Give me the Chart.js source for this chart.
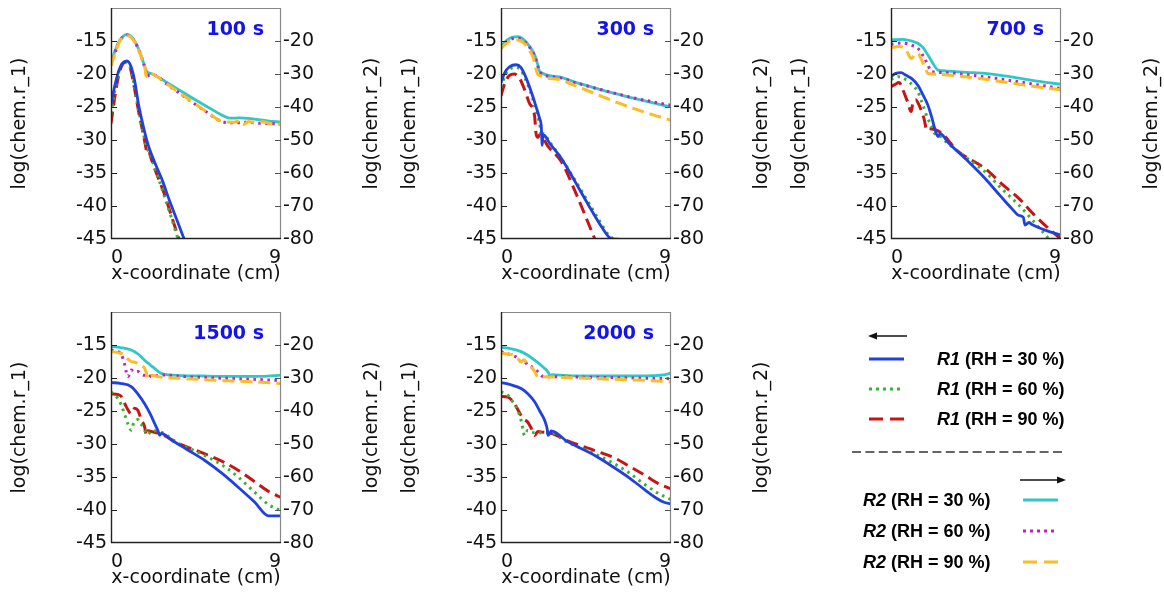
<!DOCTYPE html>
<html>
<head>
<meta charset="utf-8">
<script src="https://cdn.jsdelivr.net/npm/chart.js@4.4.1/dist/chart.umd.min.js"></script>
<style>
  html, body { margin: 0; padding: 0; background: #fff; }
  body { width: 1164px; height: 595px; overflow: hidden; position: relative; }
  .panel { position: absolute; width: 390px; height: 300px; }
  #legend { position: absolute; left: 0; top: 0; }
</style>
</head>
<body>
<div class="panel" style="left:0px;top:0px"><canvas id="c100" width="390" height="300"></canvas></div>
<div class="panel" style="left:390px;top:0px"><canvas id="c300" width="390" height="300"></canvas></div>
<div class="panel" style="left:780px;top:0px"><canvas id="c700" width="390" height="300"></canvas></div>
<div class="panel" style="left:0px;top:304px"><canvas id="c1500" width="390" height="300"></canvas></div>
<div class="panel" style="left:390px;top:304px"><canvas id="c2000" width="390" height="300"></canvas></div>

<svg id="legend" width="1164" height="595" xmlns="http://www.w3.org/2000/svg" font-family="Liberation Sans, Arial, sans-serif" font-weight="bold" font-size="18">
  <line x1="874" y1="336" x2="907" y2="336" stroke="#111" stroke-width="1.5"/>
  <polygon points="868,336 877,332.5 877,339.5" fill="#111"/>
  <line x1="869" y1="359" x2="904" y2="359" stroke="#2040e0" stroke-width="3"/>
  <line x1="869" y1="389" x2="902" y2="389" stroke="#33b233" stroke-width="3" stroke-dasharray="3 4"/>
  <line x1="869" y1="419" x2="904" y2="419" stroke="#c81414" stroke-width="3" stroke-dasharray="14 7"/>
  <text x="937" y="365"><tspan font-style="italic">R1</tspan> (RH = 30 %)</text>
  <text x="937" y="395"><tspan font-style="italic">R1</tspan> (RH = 60 %)</text>
  <text x="937" y="425"><tspan font-style="italic">R1</tspan> (RH = 90 %)</text>
  <line x1="852" y1="452" x2="1066" y2="452" stroke="#333" stroke-width="1.5" stroke-dasharray="9 4.4"/>
  <line x1="1020" y1="480" x2="1059" y2="480" stroke="#111" stroke-width="1.5"/>
  <polygon points="1066,480 1057,476.5 1057,483.5" fill="#111"/>
  <text x="863" y="506"><tspan font-style="italic">R2</tspan> (RH = 30 %)</text>
  <text x="863" y="537"><tspan font-style="italic">R2</tspan> (RH = 60 %)</text>
  <text x="863" y="568"><tspan font-style="italic">R2</tspan> (RH = 90 %)</text>
  <line x1="1023" y1="500" x2="1058" y2="500" stroke="#2ec8c8" stroke-width="3"/>
  <line x1="1023" y1="531" x2="1056" y2="531" stroke="#c020c0" stroke-width="3" stroke-dasharray="3 4"/>
  <line x1="1023" y1="562" x2="1058" y2="562" stroke="#ffbb22" stroke-width="3" stroke-dasharray="14 7"/>
</svg>

<script>
// ---------------- data ----------------
const X_TICKS = [0, 9];
const Y1_TICKS = [-45, -40, -35, -30, -25, -20, -15];
const Y2_TICKS = [-80, -70, -60, -50, -40, -30, -20];
const TIMES = ['100 s', '300 s', '700 s', '1500 s', '2000 s'];

// R1 series: log(chem.r_1) (left axis); R2 series: log(chem.r_2) (right axis). Points are [x (cm), value].
// ---- 100 s ----
const r1_30_t100 = [[0,-24.5],[0.2,-21.8],[0.4,-19.6],[0.6,-18.4],[0.85,-18.0],[1.05,-18.8],[1.25,-21.0],[1.45,-24.5],[1.7,-27.8],[1.95,-30.6],[2.3,-33.3],[2.7,-36.0],[3.1,-39.2],[3.5,-42.2],[3.9,-45.2],[4.1,-46.6]];
const r1_60_t100 = [[0,-26],[0.2,-22.5],[0.4,-19.8],[0.6,-18.4],[0.8,-18.1],[1.0,-18.8],[1.2,-21.3],[1.45,-25.3],[1.7,-28.8],[1.9,-31.2],[2.05,-32],[2.4,-34.8],[2.8,-38.3],[3.2,-41.8],[3.55,-45],[3.8,-47]];
const r1_90_t100 = [[0,-27.5],[0.2,-23.5],[0.4,-20.3],[0.6,-18.6],[0.8,-18.2],[1.0,-18.9],[1.2,-21.5],[1.45,-25.5],[1.7,-29.0],[1.85,-31.2],[1.9,-32.0],[2.0,-31.7],[2.1,-32.6],[2.4,-35.0],[2.8,-38.0],[3.2,-41.5],[3.6,-45.0],[3.8,-46.5]];
const r2_30_t100 = [[0,-26.5],[0.2,-23.2],[0.4,-20.4],[0.6,-18.8],[0.85,-18.0],[1.1,-18.8],[1.35,-21.0],[1.6,-24.5],[1.8,-28.0],[1.9,-29.3],[2.1,-29.8],[2.3,-30.3],[3.0,-32.7],[4.0,-36.2],[5.0,-39.6],[6.0,-42.8],[6.3,-43.4],[6.8,-43.3],[7.5,-43.6],[8.3,-44.2],[9,-44.6]];
const r2_60_t100 = [[0,-27.3],[0.2,-23.8],[0.4,-20.6],[0.6,-18.9],[0.85,-18.2],[1.1,-19.0],[1.35,-21.2],[1.6,-24.7],[1.8,-28.3],[1.9,-30.8],[2.05,-30.2],[2.2,-30.2],[3.0,-33.3],[4.0,-37.3],[5.0,-41.3],[6.0,-44.6],[6.6,-44.8],[7.2,-44.6],[7.8,-44.9],[8.4,-45.0],[9,-45.2]];
const r2_90_t100 = [[0,-27.5],[0.2,-24],[0.4,-20.8],[0.6,-19],[0.85,-18.3],[1.1,-19.1],[1.35,-21.3],[1.6,-24.8],[1.8,-28.2],[1.85,-30.5],[1.95,-30.8],[2.05,-29.8],[2.2,-30],[3.0,-33.2],[4.0,-37.2],[5.0,-41.2],[6.0,-44.5],[6.5,-44.6],[6.8,-44.2],[7.0,-45.3],[7.3,-44.4],[7.6,-44.7],[8.0,-44.5],[8.5,-45.2],[8.7,-45.5],[9,-45.0]];
// ---- 300 s ----
const r1_30_t300 = [[0,-21.3],[0.2,-19.8],[0.45,-18.9],[0.8,-18.6],[1.05,-19.0],[1.3,-20.4],[1.6,-22.7],[1.85,-24.9],[2.05,-26.8],[2.13,-27.8],[2.18,-30.8],[2.24,-29.2],[2.6,-30.6],[3.2,-32.8],[3.9,-36.2],[4.62,-39.8],[5.2,-42.6],[5.68,-44.6],[5.9,-45.0],[6.3,-45.05]];
const r1_60_t300 = [[0,-22],[0.2,-20.3],[0.45,-19.3],[0.8,-19.0],[1.05,-19.4],[1.3,-20.8],[1.6,-23.0],[1.85,-25.5],[2.05,-27.6],[2.15,-29.5],[2.22,-29.0],[2.6,-30.4],[3.2,-32.8],[3.9,-36.0],[4.62,-39.4],[5.2,-42.2],[5.7,-44.4],[6.0,-45.0],[6.4,-45.1]];
const r1_90_t300 = [[0,-23.3],[0.2,-21.4],[0.45,-20.2],[0.7,-20.0],[0.95,-20.5],[1.2,-22.0],[1.5,-24.4],[1.78,-26.4],[1.85,-28.9],[1.95,-29.6],[2.05,-29.2],[2.5,-31.0],[3.2,-33.3],[4.0,-38.3],[4.97,-45],[5.2,-46.5]];
const r2_30_t300 = [[0,-21.7],[0.3,-19.8],[0.6,-18.8],[0.9,-18.7],[1.2,-19.6],[1.5,-21.5],[1.8,-24.5],[1.95,-27.3],[2.05,-29.3],[3,-30.8],[4,-32.6],[5,-34.3],[6,-35.9],[7,-37.3],[8,-38.7],[9,-40]];
const r2_60_t300 = [[0,-22.2],[0.3,-20.3],[0.6,-19.3],[0.9,-19.2],[1.2,-20.0],[1.5,-21.8],[1.8,-24.8],[1.95,-27.6],[2.05,-29.5],[3,-31],[4,-32.7],[5,-34.3],[6,-35.8],[7,-37.2],[8,-38.4],[9,-39.5]];
const r2_90_t300 = [[0,-22.2],[0.3,-20.6],[0.6,-19.8],[0.9,-19.7],[1.2,-20.6],[1.5,-22.8],[1.7,-25.0],[1.85,-28.5],[1.95,-30.1],[3,-31.6],[4,-33.7],[5,-36.0],[6,-38.3],[7,-40.4],[8,-42.3],[9,-44]];
// ---- 700 s ----
const r1_30_t700 = [[0,-20.4],[0.25,-19.9],[0.53,-19.8],[0.8,-20.2],[1.1,-20.7],[1.42,-21.7],[1.7,-23.2],[1.95,-24.7],[2.15,-26.5],[2.31,-28.2],[2.49,-29.5],[2.6,-29.0],[3.0,-30.3],[4.0,-33.0],[4.97,-35.8],[5.8,-38.5],[6.4,-40.4],[6.75,-41.4],[7.0,-41.7],[7.1,-42.9],[7.3,-42.5],[7.46,-42.8],[8.2,-43.7],[9,-44.4]];
const r1_60_t700 = [[0,-20.8],[0.4,-20.4],[0.7,-20.7],[1.0,-21.3],[1.42,-22.7],[1.7,-24.8],[1.95,-26.8],[2.13,-27.7],[2.31,-29.0],[2.5,-29.2],[3.0,-30.5],[4.0,-32.7],[4.97,-34.8],[5.9,-37.5],[6.75,-39.8],[7.6,-42.5],[8.35,-45],[8.6,-46]];
const r1_90_t700 = [[0,-21.9],[0.2,-21.6],[0.44,-21.3],[0.6,-22.2],[0.85,-24.0],[1.07,-25.7],[1.15,-24.5],[1.3,-23.9],[1.5,-24.8],[1.75,-26.8],[1.9,-28.5],[2.0,-28.3],[2.3,-28.4],[2.66,-28.9],[3.5,-31.6],[4.97,-34.3],[6.0,-37.0],[6.75,-38.8],[7.6,-41.4],[8.3,-43.3],[9,-45]];
const r2_30_t700 = [[0,-19.7],[0.62,-19.5],[1.1,-20.0],[1.42,-20.7],[1.7,-22.0],[1.95,-24.2],[2.2,-26.6],[2.49,-28.8],[3,-29.1],[4,-29.5],[4.97,-29.8],[6,-30.6],[7,-31.5],[8,-32.4],[9,-33.1]];
const r2_60_t700 = [[0,-21.0],[0.6,-20.6],[1.1,-21.3],[1.42,-22.2],[1.7,-24.5],[1.95,-27.2],[2.13,-29.3],[3,-29.6],[4,-30.2],[5,-30.9],[6,-31.7],[7,-32.6],[8,-33.5],[9,-34.4]];
const r2_90_t700 = [[0,-22.0],[0.4,-21.7],[0.7,-22.0],[0.9,-23.8],[1.07,-25.3],[1.25,-24.2],[1.42,-23.7],[1.6,-25.5],[1.8,-28.0],[1.95,-29.8],[2.22,-30.0],[3,-30.3],[4,-30.9],[5,-31.6],[6,-32.4],[7,-33.3],[8,-34.1],[9,-34.8]];
// ---- 1500 s ----
const r1_30_t1500 = [[0,-20.7],[0.5,-20.8],[1.07,-21.3],[1.42,-22.4],[1.78,-23.9],[2.05,-25.3],[2.31,-26.9],[2.5,-28.1],[2.58,-28.7],[2.66,-28.4],[3.2,-29.4],[4.0,-30.8],[4.97,-32.5],[5.9,-34.5],[6.75,-36.6],[7.6,-38.8],[8.35,-40.9],[9,-40.9]];
const r1_60_t1500 = [[0,-22.1],[0.36,-23.1],[0.53,-24.0],[0.71,-25.4],[0.9,-27.0],[1.07,-27.9],[1.2,-26.8],[1.42,-26.3],[1.6,-27.0],[1.78,-27.9],[1.95,-28.6],[2.13,-28.0],[2.66,-28.2],[3.5,-29.8],[4.97,-31.75],[6.0,-33.4],[6.75,-35.05],[7.6,-37.3],[8.35,-39.2],[9,-40.1]];
const r1_90_t1500 = [[0,-22.4],[0.36,-22.5],[0.55,-22.8],[0.8,-24.3],[1.07,-25.4],[1.25,-24.6],[1.42,-24.9],[1.6,-26.3],[1.78,-27.4],[1.87,-28.7],[1.95,-28.0],[2.13,-28.1],[2.66,-28.5],[3.5,-29.8],[4.97,-31.5],[6.0,-32.8],[6.75,-34.0],[7.6,-35.7],[8.35,-37.2],[9,-38.1]];
const r2_30_t1500 = [[0,-20.5],[0.5,-20.8],[1.07,-21.5],[1.45,-22.8],[1.78,-24.6],[2.05,-25.9],[2.31,-27.1],[2.5,-28.0],[2.66,-28.6],[3.5,-29.2],[5,-29.4],[6.5,-29.5],[8,-29.5],[9,-29.1]];
const r2_60_t1500 = [[0,-21.5],[0.36,-22.0],[0.53,-22.6],[0.71,-25.6],[0.8,-28.0],[0.9,-29.6],[1.0,-28.5],[1.07,-27.6],[1.25,-28.2],[1.42,-28.0],[1.6,-28.9],[1.78,-29.2],[1.95,-28.8],[2.13,-29.6],[2.4,-29.3],[2.66,-29.1],[4,-29.6],[6,-30.1],[8,-30.5],[9,-30.8]];
const r2_90_t1500 = [[0,-22.0],[0.36,-22.3],[0.71,-23.0],[0.9,-24.3],[1.07,-25.0],[1.3,-25.3],[1.5,-26.0],[1.78,-27.1],[1.87,-28.5],[1.95,-30.2],[2.05,-29.4],[2.13,-29.2],[2.5,-29.6],[4,-30.2],[6,-30.8],[8,-31.3],[9,-31.7]];
// ---- 2000 s ----
const r1_30_t2000 = [[0,-20.7],[0.5,-21.0],[1.07,-21.6],[1.42,-22.4],[1.78,-23.6],[2.05,-25.0],[2.31,-26.4],[2.45,-27.8],[2.49,-28.7],[2.58,-28.4],[2.66,-28.0],[3.5,-29.6],[4.97,-31.75],[6.0,-33.6],[6.75,-35.05],[7.6,-36.9],[8.17,-38.1],[8.6,-38.8],[9,-39.1]];
const r1_60_t2000 = [[0,-22.1],[0.36,-22.6],[0.6,-23.5],[0.89,-24.9],[1.07,-26.5],[1.2,-28.3],[1.24,-28.7],[1.42,-27.9],[1.6,-28.2],[1.95,-28.3],[2.66,-28.3],[3.5,-29.7],[4.97,-31.5],[6.0,-33.0],[6.75,-34.3],[7.6,-36.1],[8.4,-37.6],[9,-38.4]];
const r1_90_t2000 = [[0,-22.8],[0.36,-22.9],[0.71,-23.9],[1.07,-25.7],[1.2,-26.2],[1.42,-26.7],[1.6,-27.6],[1.78,-28.7],[1.95,-28.1],[2.2,-28.2],[2.66,-28.4],[3.5,-29.5],[4.97,-31.0],[6.0,-32.1],[6.75,-33.3],[7.6,-34.7],[8.4,-36.1],[9,-36.8]];
const r2_30_t2000 = [[0,-20.7],[0.5,-21.1],[1.07,-22.0],[1.42,-23.1],[1.78,-24.6],[2.05,-25.8],[2.31,-27.1],[2.5,-28.3],[2.62,-29.6],[2.7,-29.0],[3.5,-29.3],[5,-29.4],[6.5,-29.4],[8,-29.3],[8.7,-29.0],[9,-28.4]];
const r2_60_t2000 = [[0,-22.0],[0.53,-23.0],[0.9,-24.0],[1.07,-25.1],[1.2,-24.8],[1.42,-26.1],[1.78,-27.1],[1.95,-28.1],[2.31,-29.8],[2.6,-29.6],[4,-29.7],[6,-29.9],[8,-30.1],[9,-30.2]];
const r2_90_t2000 = [[0,-22.5],[0.36,-22.7],[0.71,-23.2],[0.9,-24.2],[1.07,-25.1],[1.2,-24.5],[1.42,-25.6],[1.6,-26.7],[1.78,-28.0],[1.95,-29.8],[2.2,-29.6],[4,-30.0],[6,-30.4],[8,-30.8],[9,-31.2]];

// ---------------- styling ----------------
const FONT = 'DejaVu Sans';
const FS = 19;
const BLUE = '#2040e0', GREEN = '#33b233', RED = '#c81414';
const CYAN = '#2ec8c8', MAGENTA = '#c020c0', YELLOW = '#ffbb22';

Chart.defaults.font.family = FONT;
Chart.defaults.font.size = FS;
Chart.defaults.color = '#111';

const framePlugin = {
  id: 'frame',
  afterDraw(chart, args, opts) {
    const {ctx, chartArea: a, scales} = chart;
    ctx.save();
    ctx.lineWidth = 1.2;
    ctx.strokeStyle = '#888';
    ctx.beginPath();
    ctx.moveTo(a.left, a.top + 0.5); ctx.lineTo(a.right - 0.5, a.top + 0.5); ctx.lineTo(a.right - 0.5, a.bottom);
    ctx.stroke();
    ctx.strokeStyle = '#555';
    ctx.beginPath();
    scales.y2.ticks.forEach(t => {
      const py = Math.round(scales.y2.getPixelForValue(t.value)) + 0.5;
      if (py > a.top + 2 && py < a.bottom - 2) { ctx.moveTo(a.right - 6, py); ctx.lineTo(a.right, py); }
    });
    ctx.stroke();
    ctx.strokeStyle = '#222';
    ctx.lineWidth = 1.4;
    ctx.beginPath();
    ctx.moveTo(a.left + 0.5, a.top); ctx.lineTo(a.left + 0.5, a.bottom - 0.5); ctx.lineTo(a.right, a.bottom - 0.5);
    ctx.stroke();
    ctx.lineWidth = 1.2;
    ctx.beginPath();
    scales.y.ticks.forEach(t => {
      const py = Math.round(scales.y.getPixelForValue(t.value)) + 0.5;
      if (py > a.top + 2 && py < a.bottom - 2) { ctx.moveTo(a.left, py); ctx.lineTo(a.left + 6, py); }
    });
    ctx.stroke();
    // right axis title (reads bottom to top)
    ctx.fillStyle = '#111';
    ctx.font = FS + 'px "' + FONT + '"';
    ctx.textAlign = 'center';
    ctx.textBaseline = 'middle';
    ctx.translate(a.right + 91, (a.top + a.bottom) / 2);
    ctx.rotate(-Math.PI / 2);
    ctx.fillText(opts.rightTitle, 0, 0);
    ctx.restore();
    // panel time label
    ctx.save();
    ctx.fillStyle = '#1414e6';
    ctx.font = 'bold ' + FS + 'px "' + FONT + '"';
    ctx.textAlign = 'right';
    ctx.textBaseline = 'middle';
    ctx.fillText(opts.label, a.right - 17, a.top + 22);
    ctx.restore();
  }
};

function ds(label, pts, color, dash, axis, width) {
  return {
    label, data: pts.map(p => ({x: p[0], y: p[1]})),
    borderColor: color, backgroundColor: color, borderWidth: width, borderDash: dash,
    yAxisID: axis, pointRadius: 0, fill: false, cubicInterpolationMode: 'monotone'
  };
}

function buildChart(id, label, s) {
  const datasets = [
    ds('R1 (RH = 30 %)', s[0], BLUE, [], 'y', 2.8),
    ds('R2 (RH = 90 %)', s[5], YELLOW, [12, 6], 'y2', 3),
    ds('R2 (RH = 60 %)', s[4], MAGENTA, [2.5, 4.5], 'y2', 3),
    ds('R2 (RH = 30 %)', s[3], CYAN, [], 'y2', 2.8),
    ds('R1 (RH = 60 %)', s[1], GREEN, [2.5, 4.5], 'y', 3),
    ds('R1 (RH = 90 %)', s[2], RED, [12, 6], 'y', 3)
  ];
  const noGrid = { display: false, drawTicks: false };
  return new Chart(document.getElementById(id), {
    type: 'line',
    data: { datasets },
    plugins: [framePlugin],
    options: {
      responsive: false, animation: false, devicePixelRatio: 1,
      layout: { padding: { top: 8, left: 0, right: 0, bottom: 0 } },
      plugins: {
        legend: { display: false }, tooltip: { enabled: false },
        frame: { label, rightTitle: 'log(chem.r_2)' }
      },
      scales: {
        x: {
          type: 'linear', min: 0, max: 9,
          afterBuildTicks: sc => { sc.ticks = X_TICKS.map(v => ({value: v})); },
          afterFit: sc => { sc.height = 61; sc.paddingLeft = 0; sc.paddingRight = 0; },
          ticks: { align: 'inner', padding: 8, maxRotation: 0, autoSkip: false, color: '#111' },
          grid: noGrid, border: { display: false },
          title: { display: true, text: 'x-coordinate (cm)', color: '#111', padding: { top: 0, bottom: 15 } }
        },
        y: {
          type: 'linear', position: 'left', min: -45, max: -10,
          afterBuildTicks: sc => { sc.ticks = Y1_TICKS.map(v => ({value: v})); },
          afterFit: sc => { sc.width = 111; sc.paddingTop = 0; sc.paddingBottom = 0; },
          ticks: { padding: 4, color: '#111', autoSkip: false },
          grid: noGrid, border: { display: false },
          title: { display: true, text: 'log(chem.r_1)', color: '#111', padding: { top: 9, bottom: 0 } }
        },
        y2: {
          type: 'linear', position: 'right', min: -80, max: -10,
          afterBuildTicks: sc => { sc.ticks = Y2_TICKS.map(v => ({value: v})); },
          afterFit: sc => { sc.width = 109; sc.paddingTop = 0; sc.paddingBottom = 0; },
          ticks: { padding: 2, color: '#111', autoSkip: false },
          grid: noGrid, border: { display: false }
        }
      }
    }
  });
}

buildChart('c100', TIMES[0], [r1_30_t100, r1_60_t100, r1_90_t100, r2_30_t100, r2_60_t100, r2_90_t100]);
buildChart('c300', TIMES[1], [r1_30_t300, r1_60_t300, r1_90_t300, r2_30_t300, r2_60_t300, r2_90_t300]);
buildChart('c700', TIMES[2], [r1_30_t700, r1_60_t700, r1_90_t700, r2_30_t700, r2_60_t700, r2_90_t700]);
buildChart('c1500', TIMES[3], [r1_30_t1500, r1_60_t1500, r1_90_t1500, r2_30_t1500, r2_60_t1500, r2_90_t1500]);
buildChart('c2000', TIMES[4], [r1_30_t2000, r1_60_t2000, r1_90_t2000, r2_30_t2000, r2_60_t2000, r2_90_t2000]);
</script>
</body>
</html>
